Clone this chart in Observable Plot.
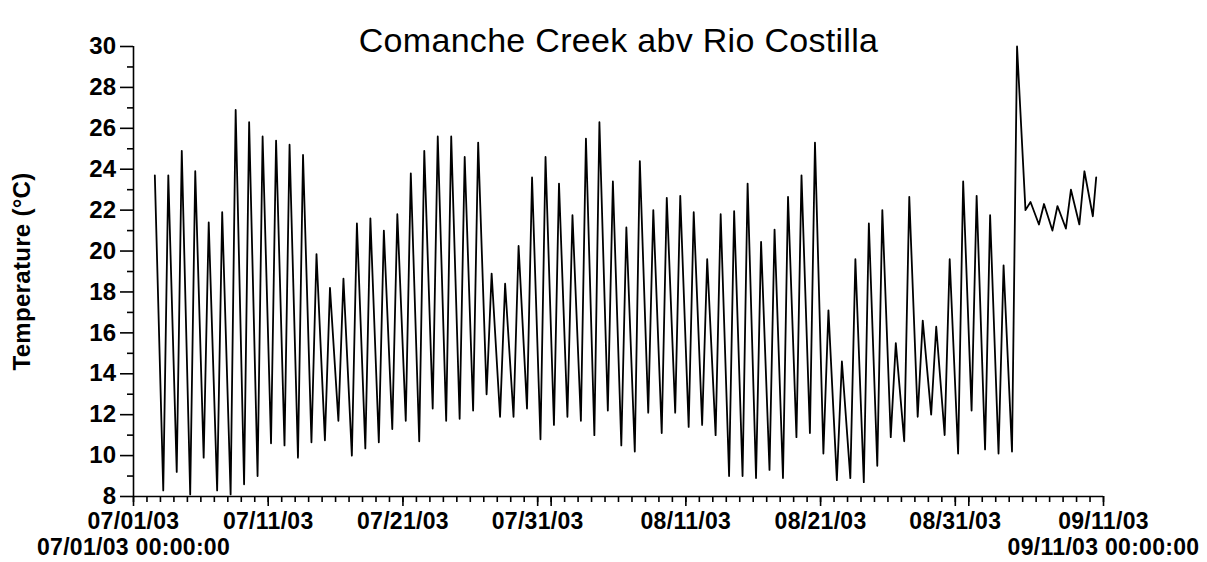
<!DOCTYPE html>
<html>
<head>
<meta charset="utf-8">
<script src="https://cdn.jsdelivr.net/npm/d3@7"></script>
<script src="https://cdn.jsdelivr.net/npm/@observablehq/plot@0.6"></script>
<style>
  html, body { margin: 0; padding: 0; background: #fff; }
  #chart svg { display: block; }
</style>
</head>
<body>
<div id="chart"></div>
<script>
// Comanche Creek above Rio Costilla — water temperature logger, summer 2003.
// Each day is stored as its morning low and afternoon high (°C).

const title = "Comanche Creek abv Rio Costilla";
const yLabel = "Temperature (°C)";
const startLabel = "07/01/03 00:00:00";
const endLabel = "09/11/03 00:00:00";

const firstDay = "2003-07-02";   // first day with readings
const lowHour = 5;                // hour of the daily low
const highHour = 14;              // hour of the daily high
const lastReadingHour = 11;       // logger stopped late morning on the final day

// daily highs, 07/02 .. 09/10
const dailyHigh = [
  23.7, 23.7, 24.9, 23.9, 21.4, 21.9, 26.9, 26.3, 25.6, 25.4,
  25.2, 24.7, 19.85, 18.2, 18.65, 21.35, 21.6, 21.0, 21.8, 23.8,
  24.9, 25.6, 25.6, 24.6, 25.3, 18.9, 18.4, 20.25, 23.6, 24.6,
  23.3, 21.75, 25.5, 26.3, 23.4, 21.15, 24.4, 22.0, 22.6, 22.7,
  21.9, 19.6, 21.8, 21.95, 23.3, 20.45, 21.05, 22.65, 23.7, 25.3,
  17.1, 14.6, 19.6, 21.35, 22.0, 15.5, 22.65, 16.6, 16.3, 19.6,
  23.4, 22.7, 21.75, 19.3, 30.0, 22.4, 22.3, 22.2, 23.0, 23.9,
  23.6
];

// daily lows, 07/02 .. 09/10 (logger deployed after the 07/02 low)
const dailyLow = [
  null, 8.3, 9.2, 8.1, 9.9, 8.3, 8.1, 8.6, 9.0, 10.6,
  10.5, 9.9, 10.65, 10.75, 11.7, 10.0, 10.35, 10.65, 11.3, 11.7,
  10.7, 12.3, 11.7, 11.8, 12.2, 13.0, 11.9, 11.9, 12.3, 10.8,
  11.5, 11.9, 11.7, 11.0, 12.2, 10.5, 10.2, 12.1, 11.1, 12.1,
  11.4, 11.5, 11.0, 9.0, 9.0, 8.9, 9.3, 8.9, 10.9, 11.1,
  10.1, 8.8, 8.9, 8.7, 9.5, 10.9, 10.7, 11.9, 12.0, 11.0,
  10.1, 12.2, 10.3, 10.1, 10.2, 22.0, 21.3, 21.0, 21.1, 21.3,
  21.7
];

// axis ticks
const yMajorTicks = [8, 10, 12, 14, 16, 18, 20, 22, 24, 26, 28, 30];
const yMinorTicks = [9, 11, 13, 15, 17, 19, 21, 23, 25, 27, 29];
const xLabelTicks = ["2003-07-01", "2003-07-11", "2003-07-21", "2003-07-31",
                     "2003-08-11", "2003-08-21", "2003-08-31", "2003-09-11"];
const xUnlabeledMajorTicks = ["2003-08-01", "2003-09-01"];
const xDomain = ["2003-07-01", "2003-09-11"];

const parse = (s) => new Date(s + "T00:00:00Z");
const atHour = (day, h) => d3.utcHour.offset(day, h);

// build the time series: low then high for each day
const start = parse(firstDay);
const series = [];
dailyHigh.forEach((hi, i) => {
  const day = d3.utcDay.offset(start, i);
  if (dailyLow[i] != null) series.push({date: atHour(day, lowHour), temp: dailyLow[i]});
  const h = i === dailyHigh.length - 1 ? lastReadingHour : highHour;
  series.push({date: atHour(day, h), temp: hi});
});

const x0 = parse(xDomain[0]);
const x1 = parse(xDomain[1]);
const dailyTicks = d3.utcDay.range(x0, d3.utcDay.offset(x1, 1));
const fmt = d3.utcFormat("%m/%d/%y");

const font = "'Liberation Sans', Arial, Helvetica, sans-serif";
const labelSize = 24;
const xLabelSize = 23;

const chart = Plot.plot({
  width: 1207,
  height: 562,
  marginLeft: 133,
  marginRight: 104,
  marginTop: 46,
  marginBottom: 66,
  style: {fontFamily: font, fontWeight: "bold", color: "#000", background: "#fff",
          overflow: "visible", letterSpacing: "0.3px"},
  x: {type: "utc", domain: [x0, x1]},
  y: {domain: [8, 30]},
  marks: [
    // y axis: minor and major ticks
    Plot.axisY({ticks: yMinorTicks, tickSize: 6, text: null, label: null, strokeWidth: 1.6}),
    Plot.axisY({ticks: yMajorTicks, tickSize: 13, tickPadding: 4, fontSize: labelSize,
                label: null, strokeWidth: 1.6}),
    // x axis: daily minor ticks and 10-day major ticks
    Plot.axisX({ticks: dailyTicks, tickSize: 6, text: null, label: null, strokeWidth: 1.6}),
    Plot.axisX({ticks: xUnlabeledMajorTicks.map(parse), tickSize: 10, text: null, label: null,
                strokeWidth: 1.6}),
    Plot.axisX({ticks: xLabelTicks.map(parse), tickSize: 10, tickPadding: 6, fontSize: xLabelSize,
                tickFormat: fmt, label: null, strokeWidth: 1.6}),
    Plot.ruleX([x0], {strokeWidth: 1.6}),
    Plot.ruleY([8], {strokeWidth: 1.6}),
    // temperature trace
    Plot.line(series, {x: "date", y: "temp", stroke: "#000", strokeWidth: 1.8}),
    // titles
    Plot.text([title], {frameAnchor: "top", dy: -19, fontSize: 34, fontWeight: "normal"}),
    Plot.text([yLabel], {frameAnchor: "left", rotate: -90, dx: -111, fontSize: labelSize,
                         textAnchor: "middle"}),
    Plot.text([startLabel], {frameAnchor: "bottom-left", dy: 58, fontSize: xLabelSize, textAnchor: "middle"}),
    Plot.text([endLabel], {frameAnchor: "bottom-right", dy: 58, fontSize: xLabelSize, textAnchor: "middle"})
  ]
});

document.getElementById("chart").append(chart);
</script>
</body>
</html>
